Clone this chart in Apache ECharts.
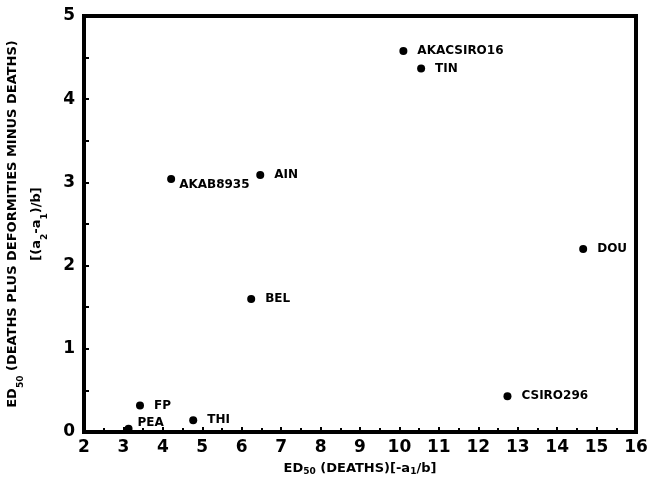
<!DOCTYPE html>
<html>
<head>
<meta charset="utf-8">
<script src="https://cdn.jsdelivr.net/npm/echarts@6/dist/echarts.min.js"></script>
<style>html,body{margin:0;padding:0;background:#fff}#c{width:647px;height:479px}</style>
</head>
<body>
<div id="c"></div>
<script>
const names = ['AKACSIRO16','TIN','AKAB8935','AIN','BEL','DOU','CSIRO296','FP','THI','PEA'];
const xDeaths = [10.1, 10.55, 4.21, 6.47, 6.24, 14.66, 12.74, 3.42, 4.77, 3.13];
const yDiff = [4.58, 4.37, 3.04, 3.09, 1.6, 2.2, 0.43, 0.32, 0.14, 0.04];
const labelOffsets = {AKAB8935:[-2,6], PEA:[-1,-6]};

const font = 'DejaVu Sans';
const chart = echarts.init(document.getElementById('c'), null, {renderer:'canvas'});
const data = names.map((n,i)=>({
  value:[xDeaths[i], yDiff[i]], name:n,
  label:{offset: labelOffsets[n] || [4,0]}
}));
const sub = {sub:{fontSize:9, fontWeight:'bold', fontFamily:font, color:'#000', verticalAlign:'bottom', padding:[6,0,0,0]}};
chart.setOption({
  animation:false,
  backgroundColor:'#fff',
  grid:{left:84, right:11, top:16, bottom:47, containLabel:false, outerBoundsMode:'none',
        show:true, borderColor:'#000', borderWidth:4},
  xAxis:{
    type:'value', min:2, max:16, interval:1,
    name:'ED{sub|50} (DEATHS)[-a{sub|1}/b]',
    nameLocation:'middle', nameGap:29,
    nameTextStyle:{fontFamily:font, fontWeight:'bold', fontSize:13, color:'#000', rich:sub},
    axisLine:{show:true, lineStyle:{color:'#000', width:4}},
    axisTick:{show:true, inside:true, length:5, lineStyle:{color:'#000', width:2}},
    minorTick:{show:true, splitNumber:2, length:4, lineStyle:{color:'#000', width:2}},
    axisLabel:{fontFamily:font, fontWeight:'bold', fontSize:17, color:'#000', margin:7},
    splitLine:{show:false}
  },
  yAxis:{
    type:'value', min:0, max:5, interval:1,
    name:'ED{sub|50} (DEATHS PLUS DEFORMITIES MINUS DEATHS)\n[(a{sub|2}-a{sub|1})/b]',
    nameLocation:'middle', nameGap:35,
    nameTextStyle:{fontFamily:font, fontWeight:'bold', fontSize:13, color:'#000', lineHeight:24, rich:sub},
    axisLine:{show:true, lineStyle:{color:'#000', width:4}},
    axisTick:{show:true, inside:true, length:5, lineStyle:{color:'#000', width:2}},
    minorTick:{show:true, splitNumber:2, length:5, lineStyle:{color:'#000', width:2}},
    axisLabel:{fontFamily:font, fontWeight:'bold', fontSize:17, color:'#000', margin:9},
    splitLine:{show:false}
  },
  series:[{
    type:'scatter', symbolSize:8,
    itemStyle:{color:'#000', opacity:1},
    data:data,
    label:{show:true, position:'right', distance:6, formatter:'{b}',
      fontFamily:font, fontWeight:'bold', fontSize:12, color:'#000'}
  }]
});
</script>
</body>
</html>
